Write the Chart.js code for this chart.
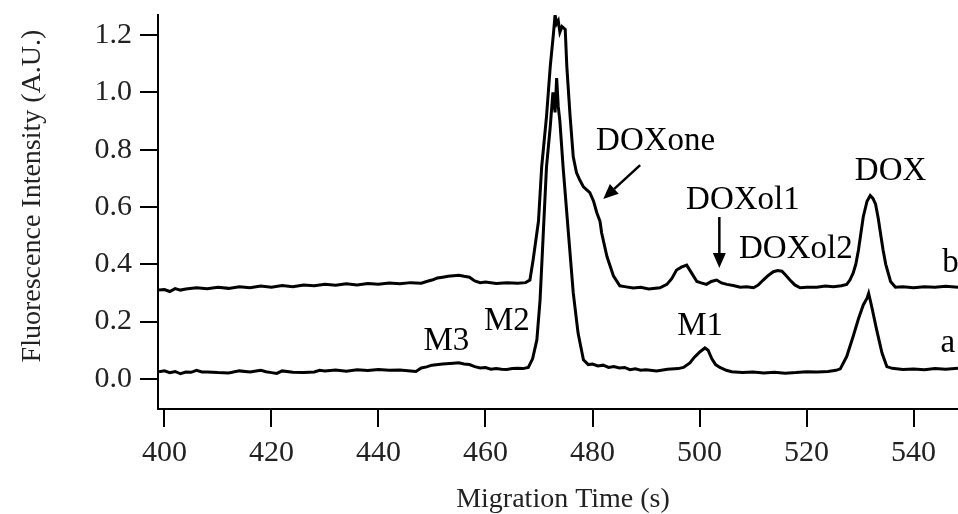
<!DOCTYPE html>
<html>
<head>
<meta charset="utf-8">
<script src="https://cdn.jsdelivr.net/npm/chart.js@4.4.0/dist/chart.umd.min.js"></script>
<style>
  html, body { margin: 0; padding: 0; background: #fff; }
  #wrap { width: 958px; height: 514px; }
</style>
</head>
<body>
<div id="wrap"><canvas id="chart" width="958" height="514"></canvas></div>
<script>
// --- data
const xTicks = [400, 420, 440, 460, 480, 500, 520, 540];
const yTicks = [0.0, 0.2, 0.4, 0.6, 0.8, 1.0, 1.2];

// trace a (lower)
const timesA = [
  399, 400, 401, 402, 403, 404, 405, 406, 407, 408, 410, 412, 414, 416, 418, 419, 420, 421, 422, 424,
  426, 428, 429, 430, 432, 434, 436, 438, 440, 442, 444, 446, 447, 448, 449, 450, 452, 454, 455, 456,
  457, 458, 459, 460, 461, 462, 463, 464, 465, 466, 467, 468, 468.8, 469.6, 470.2, 470.8, 471.4, 472.1, 472.6, 473.0,
  473.3, 473.6, 473.9, 474.2, 474.5, 475.5, 476.4, 477.3, 478.3, 479.2, 480, 481, 482, 483, 484, 485, 486, 487, 488, 489,
  490, 492, 494, 496, 497, 498.2, 499, 500.1, 501.0, 501.6, 502.3, 503, 503.8, 505, 506, 508, 510, 512, 514, 516,
  518, 520, 522, 524, 525.5, 526.3, 527.5, 528.7, 529.7, 530.6, 531.3, 531.6, 532.2, 533.1, 534.1, 535.0, 536, 538, 540, 542,
  544, 546, 548.3
];
const valuesA = [
  0.025, 0.028, 0.022, 0.026, 0.018, 0.024, 0.023, 0.030, 0.024, 0.024, 0.022, 0.021, 0.028, 0.024, 0.030, 0.025, 0.022, 0.019, 0.028, 0.023,
  0.022, 0.024, 0.030, 0.028, 0.031, 0.027, 0.032, 0.029, 0.033, 0.030, 0.031, 0.028, 0.026, 0.038, 0.042, 0.048, 0.052, 0.055, 0.056, 0.052,
  0.050, 0.043, 0.038, 0.040, 0.034, 0.036, 0.034, 0.033, 0.036, 0.037, 0.036, 0.040, 0.070, 0.136, 0.276, 0.508, 0.740, 0.880, 1.000, 0.930,
  1.050, 0.950, 0.900, 0.820, 0.740, 0.508, 0.300, 0.160, 0.067, 0.050, 0.052, 0.045, 0.048, 0.040, 0.043, 0.038, 0.040, 0.032, 0.035, 0.030,
  0.032, 0.028, 0.034, 0.036, 0.040, 0.056, 0.075, 0.095, 0.108, 0.100, 0.070, 0.050, 0.040, 0.030, 0.025, 0.022, 0.024, 0.021, 0.023, 0.020,
  0.022, 0.025, 0.024, 0.026, 0.030, 0.035, 0.078, 0.148, 0.210, 0.258, 0.282, 0.299, 0.250, 0.171, 0.090, 0.043, 0.037, 0.033, 0.035, 0.032,
  0.036, 0.034, 0.037
];

// trace b (upper)
const timesB = [
  399, 400, 401, 402, 403, 404, 406, 408, 410, 412, 414, 416, 418, 420, 422, 424, 426, 428, 430, 432,
  434, 436, 438, 440, 442, 444, 446, 448, 449, 450, 451, 452, 453, 454, 455, 456, 457, 458, 459, 460,
  462, 464, 466, 467.5, 468.3, 468.9, 469.9, 470.5, 471.4, 472.1, 472.7, 473.0, 473.3, 473.6, 473.9, 474.3, 474.9, 475.2, 475.8, 476.4,
  477.0, 477.6, 478.3, 479.5, 480.2, 480.8, 481.4, 481.7, 482.7, 483.9, 485.1, 486, 487.6, 489, 490.5, 492.6, 493.9, 494.8, 495.7, 496.6,
  497.6, 498.5, 499.5, 500.3, 501.3, 502.2, 503.2, 504.1, 505.1, 506.3, 507.6, 508.8, 510.1, 511, 511.9, 512.9, 513.8, 514.6, 515.4, 516.2,
  516.9, 517.8, 518.8, 520, 521.9, 523.5, 525, 526.5, 527.5, 528.1, 528.7, 529.2, 529.7, 530.6, 531.3, 531.9, 532.4, 532.9, 533.4, 533.8,
  534.3, 534.8, 535.7, 536.6, 538, 540, 542, 544, 546, 548.3
];
const valuesB = [
  0.310, 0.312, 0.305, 0.315, 0.310, 0.314, 0.318, 0.315, 0.320, 0.316, 0.322, 0.318, 0.324, 0.320, 0.326, 0.322, 0.328, 0.325, 0.330, 0.327,
  0.332, 0.328, 0.333, 0.330, 0.335, 0.332, 0.336, 0.334, 0.340, 0.345, 0.352, 0.355, 0.358, 0.360, 0.362, 0.358, 0.355, 0.342, 0.336, 0.338,
  0.333, 0.336, 0.334, 0.336, 0.345, 0.415, 0.550, 0.740, 0.915, 1.090, 1.205, 1.270, 1.240, 1.250, 1.210, 1.230, 1.220, 1.090, 0.920, 0.775,
  0.720, 0.695, 0.670, 0.650, 0.620, 0.580, 0.550, 0.510, 0.427, 0.360, 0.325, 0.322, 0.317, 0.320, 0.314, 0.318, 0.330, 0.350, 0.380, 0.390,
  0.397, 0.370, 0.340, 0.335, 0.330, 0.340, 0.345, 0.335, 0.330, 0.326, 0.320, 0.322, 0.318, 0.328, 0.345, 0.362, 0.374, 0.378, 0.376, 0.360,
  0.345, 0.328, 0.318, 0.320, 0.320, 0.324, 0.322, 0.325, 0.330, 0.345, 0.369, 0.400, 0.450, 0.566, 0.620, 0.640, 0.630, 0.610, 0.560, 0.510,
  0.450, 0.400, 0.340, 0.320, 0.322, 0.318, 0.322, 0.320, 0.323, 0.320
];

// peak labels: text, x (s), baseline y (A.U.)
const labelTexts = ['M3', 'M2', 'M1', 'DOXone', 'DOXol1', 'DOXol2', 'DOX', 'b', 'a'];
const labelX     = [452.7, 464.0, 500.1, 491.8, 508.1, 518.0, 535.7, 546.9, 546.4];
const labelY     = [0.100, 0.171, 0.153, 0.800, 0.593, 0.422, 0.694, 0.373, 0.094];

// arrows: from (x0,y0) to tip (x1,y1), in data units
const arrowX0 = [488.9, 503.7];
const arrowY0 = [0.746, 0.565];
const arrowX1 = [482.0, 503.7];
const arrowY1 = [0.628, 0.387];

const xTitle = 'Migration Time (s)';
const yTitle = 'Fluorescence Intensity (A.U.)';

// --- helpers
const SERIF = '"Liberation Serif", "Times New Roman", serif';
const toPoints = (xs, ys) => xs.map((x, i) => ({ x, y: ys[i] }));

function drawArrow(ctx, x0, y0, x1, y1) {
  const ang = Math.atan2(y1 - y0, x1 - x0);
  const head = 15, half = 6.5;
  const bx = x1 - head * Math.cos(ang), by = y1 - head * Math.sin(ang);
  ctx.beginPath();
  ctx.moveTo(x0, y0);
  ctx.lineTo(bx, by);
  ctx.stroke();
  ctx.beginPath();
  ctx.moveTo(x1, y1);
  ctx.lineTo(bx + half * Math.sin(ang), by - half * Math.cos(ang));
  ctx.lineTo(bx - half * Math.sin(ang), by + half * Math.cos(ang));
  ctx.closePath();
  ctx.fill();
}

// annotations + axis titles
const annotatePlugin = {
  id: 'annotate',
  afterDraw(chart) {
    const { ctx, scales: { x, y } } = chart;
    ctx.save();
    ctx.fillStyle = '#000';
    ctx.strokeStyle = '#000';
    ctx.lineWidth = 2.5;

    ctx.font = '33px ' + SERIF;
    ctx.textAlign = 'center';
    ctx.textBaseline = 'alphabetic';
    labelTexts.forEach((t, i) => {
      ctx.fillText(t, x.getPixelForValue(labelX[i]), y.getPixelForValue(labelY[i]));
    });

    arrowX0.forEach((_, i) => {
      drawArrow(ctx,
        x.getPixelForValue(arrowX0[i]), y.getPixelForValue(arrowY0[i]),
        x.getPixelForValue(arrowX1[i]), y.getPixelForValue(arrowY1[i]));
    });

    // axis titles
    ctx.font = '28px ' + SERIF;
    ctx.fillStyle = '#222';
    ctx.fillText(xTitle, 563, 507);
    ctx.translate(40, 196);
    ctx.rotate(-Math.PI / 2);
    ctx.fillText(yTitle, 0, 0);
    ctx.restore();
  }
};

new Chart(document.getElementById('chart').getContext('2d'), {
  type: 'line',
  data: {
    datasets: [
      { label: 'a', data: toPoints(timesA, valuesA), borderColor: '#000', borderWidth: 3, pointRadius: 0, tension: 0, fill: false },
      { label: 'b', data: toPoints(timesB, valuesB), borderColor: '#000', borderWidth: 3, pointRadius: 0, tension: 0, fill: false }
    ]
  },
  options: {
    responsive: false,
    animation: false,
    devicePixelRatio: 1,
    layout: { padding: { top: 15, right: 0, left: 0, bottom: 0 } },
    plugins: { legend: { display: false }, tooltip: { enabled: false } },
    scales: {
      x: {
        type: 'linear',
        min: 398.8,
        max: 548.3,
        afterFit: s => { s.height = 105; s.paddingLeft = 0; s.paddingRight = 0; },
        afterBuildTicks: s => { s.ticks = xTicks.map(v => ({ value: v })); },
        grid: { drawOnChartArea: false, drawTicks: true, tickLength: 18, color: '#000', lineWidth: 2 },
        border: { display: true, color: '#000', width: 2 },
        ticks: { color: '#222', padding: 8, maxRotation: 0, font: { family: SERIF, size: 30 }, callback: v => String(v) }
      },
      y: {
        type: 'linear',
        min: -0.105,
        max: 1.27,
        afterFit: s => { s.width = 158; s.paddingTop = 0; s.paddingBottom = 0; },
        afterBuildTicks: s => { s.ticks = yTicks.map(v => ({ value: v })); },
        grid: { drawOnChartArea: false, drawTicks: true, tickLength: 18, color: '#000', lineWidth: 2 },
        border: { display: true, color: '#000', width: 2 },
        ticks: { color: '#222', padding: 8, font: { family: SERIF, size: 30 }, callback: v => Number(v).toFixed(1) }
      }
    }
  },
  plugins: [annotatePlugin]
});
</script>
</body>
</html>
